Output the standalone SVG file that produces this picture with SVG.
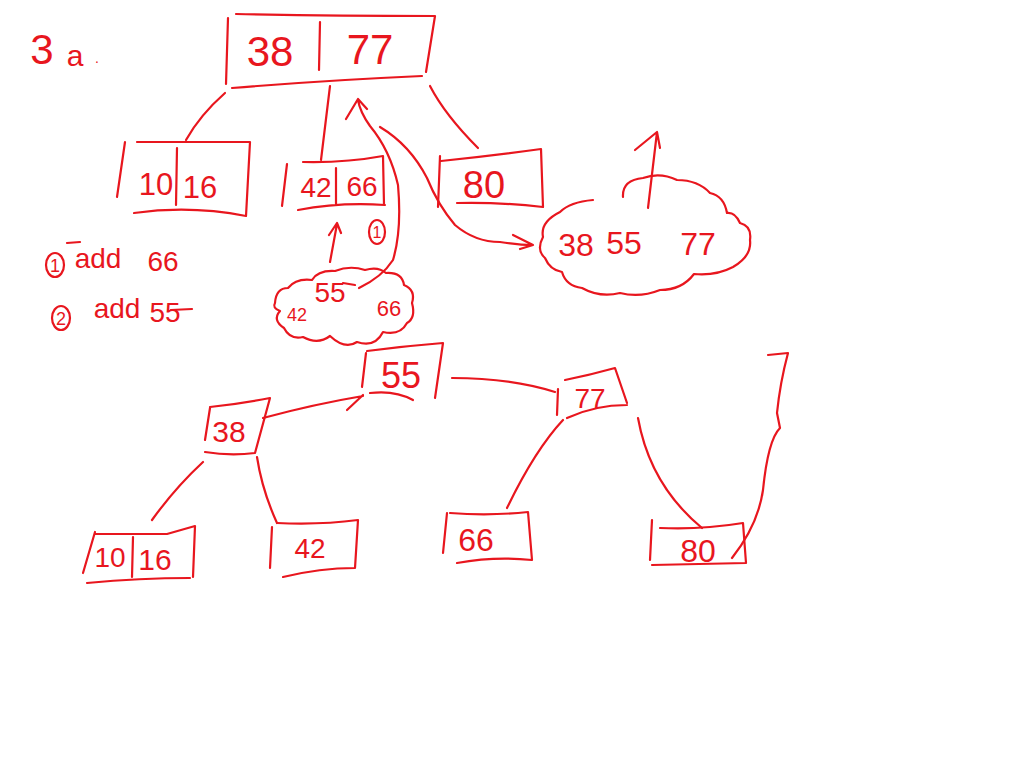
<svg xmlns="http://www.w3.org/2000/svg" width="1024" height="768" viewBox="0 0 1024 768">
<style>
.s{fill:none;stroke:#e8161e;stroke-width:2.2;stroke-linecap:round;stroke-linejoin:round}
.t{fill:#e8161e;font-family:"Liberation Sans","DejaVu Sans",sans-serif;text-anchor:middle}
</style>
<rect width="1024" height="768" fill="#ffffff"/>
<g id="title">
<text class="t" x="42" y="64" font-size="42">3</text>
<text class="t" x="75" y="66" font-size="30">a</text>
<text class="t" x="97" y="63" font-size="14">.</text>
</g>
<g id="notes">
<ellipse class="s" cx="55" cy="265" rx="9" ry="12"/>
<text class="t" x="55" y="272" font-size="18">1</text>
<path class="s" d="M67 243 L80 242"/>
<text class="t" x="98" y="268" font-size="28">add</text>
<text class="t" x="163" y="271" font-size="28">66</text>
<ellipse class="s" cx="61" cy="318" rx="9" ry="12"/>
<text class="t" x="61" y="325" font-size="18">2</text>
<text class="t" x="117" y="318" font-size="28">add</text>
<text class="t" x="165" y="322" font-size="28">55</text>
<path class="s" d="M171 310 L192 309"/>
</g>
<g id="node-38-77">
<path class="s" d="M228 18 L226 84 M236 14 Q330 16 435 16 L426 72 M232 88 Q330 80 422 76 M320 22 L319 70"/>
<text class="t" x="270" y="66" font-size="42">38</text>
<text class="t" x="370" y="64" font-size="42">77</text>
</g>
<g id="node-10-16-top">
<path class="s" d="M125 142 L117 197 M137 142 L250 142 L246 216 M134 213 Q190 205 246 216 M177 148 L176 205"/>
<text class="t" x="156" y="195" font-size="31">10</text>
<text class="t" x="200" y="198" font-size="31">16</text>
</g>
<g id="node-42-66-top">
<path class="s" d="M287 164 L282 206 M303 162 Q345 163 383 156 L384 205 M298 210 Q340 202 385 205 M336 168 L336 205"/>
<text class="t" x="316" y="197" font-size="28">42</text>
<text class="t" x="362" y="196" font-size="28">66</text>
</g>
<g id="node-80-top">
<path class="s" d="M440 156 L438 207 M441 161 Q490 156 541 149 L543 207 M457 203 Q500 202 543 207"/>
<text class="t" x="484" y="198" font-size="38">80</text>
</g>
<g id="cloud-42-55-66">
<path class="s" d="M275 303 Q276 288 288 288 Q296 278 312 280 Q318 270 335 271 Q350 265 365 270 Q378 266 386 273 Q402 272 404 285 Q416 290 412 303 Q416 318 407 323 Q400 336 383 332 Q375 348 357 342 Q345 350 330 336 Q318 345 303 337 Q290 340 284 328 Q272 320 280 311 Q272 308 275 303"/>
<text class="t" x="297" y="321" font-size="18">42</text>
<text class="t" x="330" y="302" font-size="28">55</text>
<path class="s" d="M343 283 L355 285"/>
<text class="t" x="389" y="316" font-size="22">66</text>
</g>
<g id="cloud-38-55-77">
<path class="s" d="M593 200 Q570 202 560 212 Q540 222 543 237 Q536 250 545 258 Q550 270 562 272 Q566 286 582 288 Q600 298 620 293 Q640 298 660 290 Q682 290 694 274 Q716 276 733 267 Q752 256 750 240 Q752 226 740 223 Q735 212 727 213 Q724 196 710 193 Q698 180 677 180 Q660 172 643 178 Q622 180 623 197"/>
<text class="t" x="576" y="256" font-size="32">38</text>
<text class="t" x="624" y="254" font-size="32">55</text>
<text class="t" x="698" y="255" font-size="32">77</text>
</g>
<g id="node-55">
<path class="s" d="M366 353 L362 387 M367 351 Q405 346 443 343 L435 398 M370 393 Q395 390 413 400"/>
<text class="t" x="401" y="388" font-size="36">55</text>
</g>
<g id="node-38">
<path class="s" d="M210 408 L205 440 M210 407 Q240 404 270 398 L255 453 M205 452 Q230 456 255 453"/>
<text class="t" x="229" y="442" font-size="30">38</text>
</g>
<g id="node-77">
<path class="s" d="M558 389 L557 415 M565 380 Q590 375 615 368 L627 403 M567 418 Q595 405 627 405"/>
<text class="t" x="590" y="408" font-size="28">77</text>
</g>
<g id="node-10-16-bottom">
<path class="s" d="M95 532 L83 573 M95 534 L167 534 L195 526 L193 577 M87 583 Q140 578 190 578 M133 537 L132 577"/>
<text class="t" x="110" y="567" font-size="28">10</text>
<text class="t" x="155" y="570" font-size="30">16</text>
</g>
<g id="node-42-bottom">
<path class="s" d="M272 527 L270 568 M277 523 Q320 525 358 520 L355 568 M283 577 Q320 568 355 568"/>
<text class="t" x="310" y="558" font-size="28">42</text>
</g>
<g id="node-66-bottom">
<path class="s" d="M447 513 L443 553 M450 513 Q490 516 528 512 L532 560 M457 563 Q495 556 532 560"/>
<text class="t" x="476" y="551" font-size="32">66</text>
</g>
<g id="node-80-bottom">
<path class="s" d="M652 520 L650 560 M660 528 Q700 530 743 523 L746 563 M652 565 L746 563"/>
<text class="t" x="698" y="562" font-size="32">80</text>
</g>
<g id="connectors">
<path class="s" d="M225 93 Q200 115 186 140"/>
<path class="s" d="M330 86 L321 160"/>
<path class="s" d="M430 86 Q445 115 478 148"/>
<path class="s" d="M359 288 Q382 277 393 260 Q402 230 398 185 Q390 150 370 126 Q360 112 358 100 M346 119 L358 99 L367 109"/>
<path class="s" d="M380 127 Q410 145 427 178 Q438 205 455 225 Q475 242 500 242 Q520 245 532 245 M513 235 L533 245 L520 249"/>
<path class="s" d="M330 262 L337 224 M329 235 L337 223 L341 233"/>
<ellipse class="s" cx="377" cy="232" rx="8" ry="12"/>
<text class="t" x="377" y="238" font-size="16">1</text>
<path class="s" d="M648 208 L657 132 M635 150 L657 132 L660 148"/>
<path class="s" d="M263 418 Q315 404 363 396 M347 410 L363 395"/>
<path class="s" d="M203 462 Q175 488 152 520"/>
<path class="s" d="M257 457 Q262 490 277 523"/>
<path class="s" d="M452 378 Q510 378 555 392"/>
<path class="s" d="M563 420 Q535 450 507 508"/>
<path class="s" d="M638 418 Q650 485 702 528"/>
<path class="s" d="M768 355 L788 353 Q780 383 777 413 Q780 428 780 428 Q768 440 763 490 Q758 525 732 558"/>
</g>
</svg>
